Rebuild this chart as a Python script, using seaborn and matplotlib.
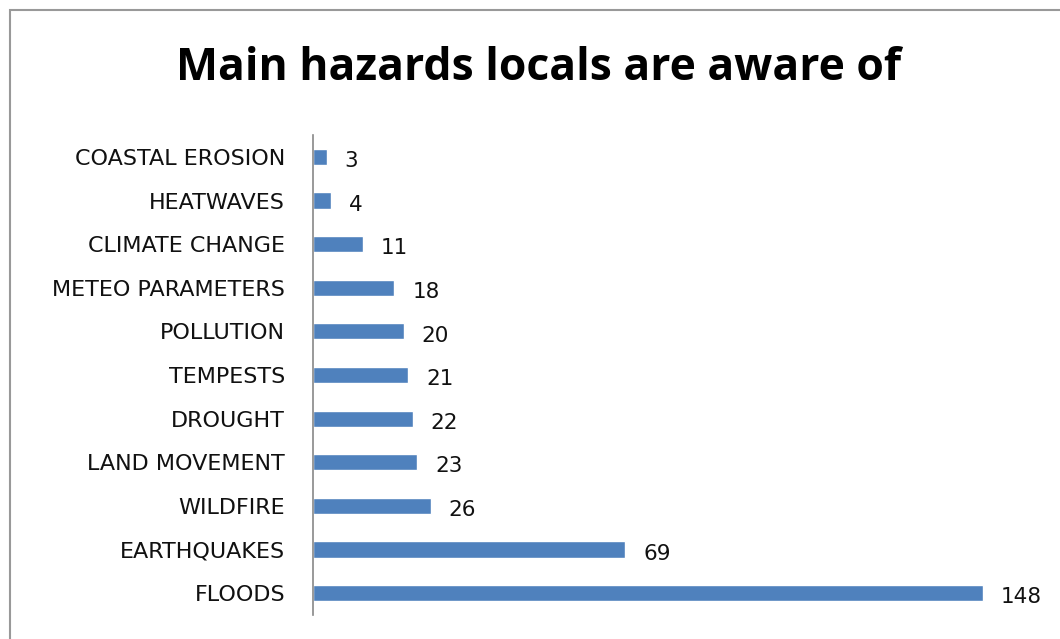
import matplotlib
matplotlib.use("Agg")
import matplotlib.pyplot as plt
import matplotlib.patches as mpatches
import seaborn as sns
import pandas as pd


# =====================================
# DATA
# =====================================

hazards = [
    "COASTAL EROSION",
    "HEATWAVES",
    "CLIMATE CHANGE",
    "METEO PARAMETERS",
    "POLLUTION",
    "TEMPESTS",
    "DROUGHT",
    "LAND MOVEMENT",
    "WILDFIRE",
    "EARTHQUAKES",
    "FLOODS"
]

counts = [3, 4, 11, 18, 20, 21, 22, 23, 26, 69, 148]

df = pd.DataFrame({"hazard": hazards, "count": counts})


# =====================================
# PLOT
# =====================================

sns.set_style("white")
plt.rcParams["font.family"] = ["DejaVu Sans"]

fig = plt.figure(figsize=(10.6, 6.39), dpi=100)
ax = fig.add_axes([0.2953, 0.0376, 0.683, 0.751])

sns.barplot(
    data=df,
    x="count",
    y="hazard",
    order=hazards,
    color="#4F81BD",
    saturation=1,
    width=0.37,
    ax=ax
)

ax.set_xlim(0, 160)
ax.set_xlabel("")
ax.set_ylabel("")
ax.set_xticks([])

for side in ["top", "right", "bottom"]:
    ax.spines[side].set_visible(False)

ax.spines["left"].set_color("#888888")
ax.spines["left"].set_linewidth(1.2)

ax.tick_params(axis="y", length=0, pad=20)

for lbl in ax.get_yticklabels():
    lbl.set_fontsize(16)
    lbl.set_color("#111111")

for i, v in enumerate(counts):
    ax.annotate(
        str(v),
        xy=(v, i),
        xytext=(13, -3),
        textcoords="offset points",
        va="center",
        ha="left",
        fontsize=15.5,
        color="#111111"
    )

fig.text(
    0.508,
    0.893,
    "Main hazards locals are aware of",
    ha="center",
    va="center",
    fontsize=32,
    fontweight="bold",
    color="black",
    family=["Open Sans", "DejaVu Sans"]
)

# chart frame
fig.patches.append(
    mpatches.Rectangle(
        (10 / 1060, -0.05),
        1.1,
        (639 - 10) / 639 + 0.05,
        transform=fig.transFigure,
        fill=False,
        edgecolor="#999999",
        linewidth=1.5
    )
)

plt.savefig("out.png", dpi=100)
plt.close()
